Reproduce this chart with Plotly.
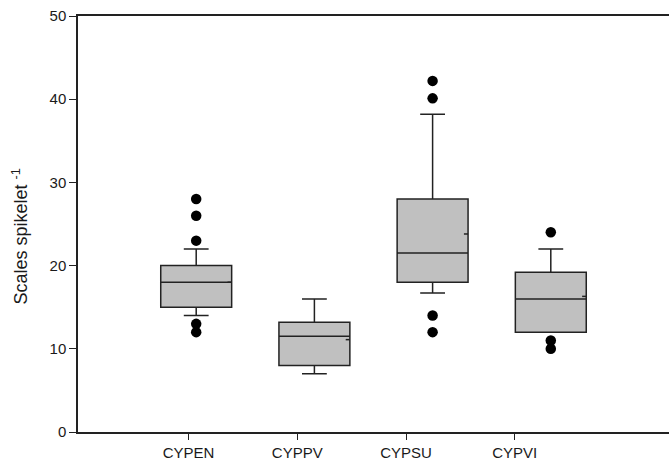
import plotly.graph_objects as go

# Scale counts per spikelet for four Cyperus taxa
species = ["CYPEN", "CYPPV", "CYPSU", "CYPVI"]
box_pos = [1, 2, 3, 4]
tick_pos = [0.935, 1.855, 2.775, 3.695]

q1 = [15, 8, 18, 12]
median = [18, 11.5, 21.5, 16]
q3 = [20, 13.2, 28, 19.2]
lower_whisker = [14, 7, 16.7, 12]   # CYPVI whisker collapses onto the box
upper_whisker = [22, 16, 38.2, 22]
means = [18, 11.1, 23.8, 16.3]

outliers = [
    [28, 26, 23, 13, 12],
    [],
    [42.2, 40.1, 14, 12],
    [24, 11, 10],
]

BOX_W = 0.6
LINE = "#222222"

fig = go.Figure()

for i, name in enumerate(species):
    fig.add_trace(go.Box(
        x=[box_pos[i]],
        q1=[q1[i]], median=[median[i]], q3=[q3[i]],
        lowerfence=[lower_whisker[i]], upperfence=[upper_whisker[i]],
        width=BOX_W,
        whiskerwidth=0.35,
        fillcolor="#c0c0c0",
        line=dict(color=LINE, width=1.5),
        boxpoints=False,
        hoverinfo="skip",
        showlegend=False,
    ))
    # mean marker: short dash at the right edge of the box
    xr = box_pos[i] + BOX_W / 2
    fig.add_trace(go.Scatter(
        x=[xr - 0.035, xr], y=[means[i], means[i]],
        mode="lines", line=dict(color=LINE, width=1.5),
        hoverinfo="skip", showlegend=False,
    ))
    if outliers[i]:
        fig.add_trace(go.Scatter(
            x=[box_pos[i]] * len(outliers[i]), y=outliers[i],
            mode="markers",
            marker=dict(color="black", size=10.5),
            hoverinfo="skip", showlegend=False,
        ))

axis_font = dict(family="Liberation Sans, Arial, sans-serif", size=15, color="#1a1a1a")

fig.update_layout(
    width=669, height=466,
    margin=dict(l=78, r=0, t=16, b=34),
    paper_bgcolor="white", plot_bgcolor="white",
    font=axis_font,
    xaxis=dict(
        range=[0, 5], showgrid=False, zeroline=False,
        tickmode="array", tickvals=tick_pos, ticktext=species,
        ticks="outside", ticklen=6, tickwidth=1.3, tickcolor=LINE,
        showline=True, linecolor=LINE, linewidth=1.5, mirror=True,
        tickfont=axis_font,
    ),
    yaxis=dict(
        range=[0, 50], showgrid=False, zeroline=False,
        tickvals=[0, 10, 20, 30, 40, 50],
        ticks="outside", ticklen=7, tickwidth=1.3, tickcolor=LINE,
        showline=True, linecolor=LINE, linewidth=1.5,
        tickfont=axis_font,
    ),
    annotations=[dict(
        text="Scales spikelet <sup>-1</sup>",
        xref="paper", yref="paper",
        x=-58 / 591, y=0.47, xanchor="center", yanchor="middle",
        textangle=-90, showarrow=False,
        font=dict(family="Liberation Sans, Arial, sans-serif", size=18, color="#1a1a1a"),
    )],
)

fig.write_html("out.html")
